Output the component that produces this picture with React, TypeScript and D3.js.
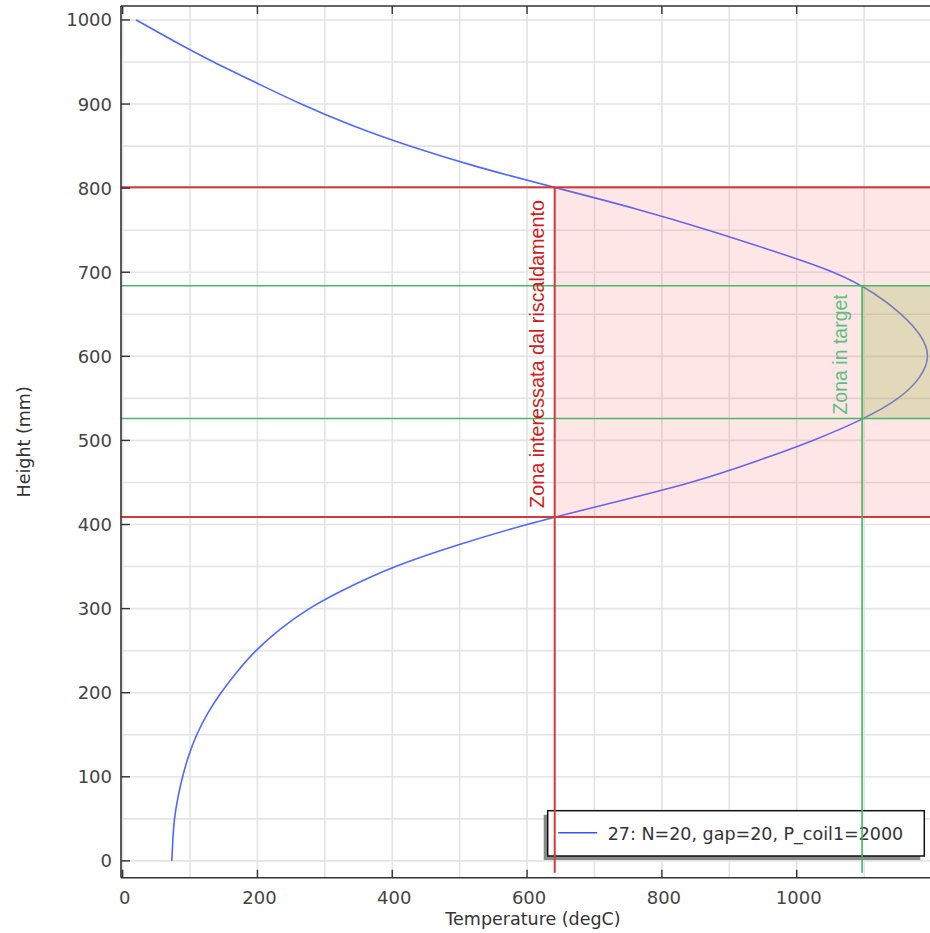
import * as d3 from "d3";

// temperature profile along the height
const heights = [0, 25, 50, 75, 100, 125, 150, 175, 200, 225, 250, 275, 300, 325, 350, 375, 400, 425, 450, 475, 500, 525, 550, 575, 600, 625, 650, 675, 700, 725, 750, 775, 800, 825, 850, 875, 900, 925, 950, 975, 1000];
const temps = [73, 74.5, 77, 82, 89, 98, 110, 126, 146, 170, 198, 233, 277, 335, 405, 495, 600, 722, 842, 939, 1024, 1096, 1150, 1182, 1194, 1183, 1155, 1114, 1054, 966, 869, 763, 645, 528, 426, 339, 265, 199, 135, 76, 20];

// heating zone (red) and target zone (green)
const heatZoneH = [409, 801];
const heatZoneT = 641;
const targetZoneH = [526, 684];
const targetZoneT = 1097;

const xTicks = [0, 200, 400, 600, 800, 1000];
const yTicks = [0, 100, 200, 300, 400, 500, 600, 700, 800, 900, 1000];
const xGrid = d3.range(0, 1300, 100);
const yGrid = d3.range(0, 1050, 50);

const legendLabel = "27: N=20, gap=20, P_coil1=2000";

const W = 930;
const H = 933;
const PLOT = { left: 121, right: 945, top: 6, bottom: 877.7 };
const LINE_BOTTOM = -14; // zone lines run a bit below 0

export default function App() {
  const x = d3.scaleLinear().domain([-2.4, 1220]).range([PLOT.left, PLOT.right]);
  const y = d3.scaleLinear().domain([-20, 1016.6]).range([PLOT.bottom, PLOT.top]);

  const pts = heights.map((h, i) => [temps[i], h] as [number, number]);
  const line = d3
    .line<[number, number]>()
    .x((d) => x(d[0]))
    .y((d) => y(d[1]))
    .curve(d3.curveNatural);

  const tickFont = { fontFamily: "DejaVu Sans", fontSize: 18, fill: "#444" };
  const zoneFont = "Liberation Sans";

  const legend = { x: 547.7, y: 810.7, w: 376.6, h: 45.3 };

  return (
    <svg width={W} height={H} style={{ position: "absolute", left: 0, top: 0, background: "white" }}>
      <defs>
        <clipPath id="plot">
          <rect x={PLOT.left} y={PLOT.top} width={PLOT.right - PLOT.left} height={PLOT.bottom - PLOT.top} />
        </clipPath>
      </defs>

      {/* grid */}
      <g clipPath="url(#plot)" stroke="#e4e4e4" strokeWidth={1.6}>
        {xGrid.map((t) => (
          <line key={"gx" + t} x1={x(t)} x2={x(t)} y1={PLOT.top} y2={PLOT.bottom} />
        ))}
        {yGrid.map((h) => (
          <line key={"gy" + h} x1={PLOT.left} x2={PLOT.right} y1={y(h)} y2={y(h)} />
        ))}
      </g>

      {/* curve */}
      <g clipPath="url(#plot)">
        <path d={line(pts) ?? ""} fill="none" stroke="#4f68ff" strokeWidth={1.6} />
      </g>

      {/* zone fills, semi transparent over the curve */}
      <g clipPath="url(#plot)">
        <rect
          x={x(heatZoneT)}
          y={y(heatZoneH[1])}
          width={PLOT.right - x(heatZoneT)}
          height={y(heatZoneH[0]) - y(heatZoneH[1])}
          fill="#ff5555"
          fillOpacity={0.15}
        />
        <rect
          x={x(targetZoneT)}
          y={y(targetZoneH[1])}
          width={PLOT.right - x(targetZoneT)}
          height={y(targetZoneH[0]) - y(targetZoneH[1])}
          fill="#a0be5a"
          fillOpacity={0.3}
        />
      </g>

      {/* legend */}
      <rect x={legend.x - 4} y={legend.y + 4} width={legend.w} height={legend.h} fill="#8a8a8a" />
      <rect x={legend.x} y={legend.y} width={legend.w} height={legend.h} fill="white" stroke="#111" strokeWidth={1.5} />
      <line x1={legend.x + 10.5} x2={legend.x + 49.5} y1={legend.y + 22} y2={legend.y + 22} stroke="#3355ff" strokeWidth={1.4} />
      <text x={legend.x + 60} y={legend.y + 29} fontFamily="DejaVu Sans" fontSize={17.5} fill="#333">
        {legendLabel}
      </text>

      {/* zone lines */}
      <g clipPath="url(#plot)">
        {heatZoneH.map((h) => (
          <line key={"rh" + h} x1={PLOT.left} x2={PLOT.right} y1={y(h)} y2={y(h)} stroke="#d23a3a" strokeWidth={2} />
        ))}
        {targetZoneH.map((h) => (
          <line key={"gh" + h} x1={PLOT.left} x2={PLOT.right} y1={y(h)} y2={y(h)} stroke="#48b868" strokeWidth={1.6} />
        ))}
        <line x1={x(heatZoneT)} x2={x(heatZoneT)} y1={y(heatZoneH[1])} y2={y(LINE_BOTTOM)} stroke="#d23a3a" strokeWidth={2} />
        <line x1={x(targetZoneT)} x2={x(targetZoneT)} y1={y(targetZoneH[1])} y2={y(LINE_BOTTOM)} stroke="#3cba5c" strokeWidth={1.6} />
      </g>

      {/* zone labels */}
      <text
        transform={`translate(${x(heatZoneT) - 11},${y(heatZoneH[0]) - 9}) rotate(-90)`}
        fontFamily={zoneFont}
        fontSize={19.8}
        fill="#d01c1c"
      >
        Zona interessata dal riscaldamento
      </text>
      <text
        transform={`translate(${x(targetZoneT) - 15},${y(targetZoneH[0]) - 4}) rotate(-90)`}
        fontFamily={zoneFont}
        fontSize={19.5}
        fill="#5fbf80"
      >
        Zona in target
      </text>

      {/* frame */}
      <g stroke="#333" strokeWidth={1.6} fill="none">
        <line x1={PLOT.left} x2={PLOT.left} y1={PLOT.top} y2={PLOT.bottom} />
        <line x1={PLOT.left} x2={W} y1={PLOT.bottom} y2={PLOT.bottom} />
        <line x1={PLOT.left} x2={W} y1={PLOT.top} y2={PLOT.top} />
      </g>

      {/* ticks */}
      <g stroke="#333" strokeWidth={1.4}>
        {xTicks.map((t) => (
          <g key={"xt" + t}>
            <line x1={x(t)} x2={x(t)} y1={PLOT.bottom} y2={PLOT.bottom - 8} />
            <line x1={x(t)} x2={x(t)} y1={PLOT.top} y2={PLOT.top + 8} />
          </g>
        ))}
        {yTicks.map((h) => (
          <line key={"yt" + h} x1={PLOT.left} x2={PLOT.left + 9} y1={y(h)} y2={y(h)} />
        ))}
      </g>

      {xTicks.map((t) => (
        <text key={"xl" + t} x={x(t) + 2} y={904} textAnchor="middle" {...tickFont}>
          {t}
        </text>
      ))}
      {yTicks.map((h) => (
        <text key={"yl" + h} x={112} y={y(h) + 6.5} textAnchor="end" {...tickFont}>
          {h}
        </text>
      ))}

      {/* axis titles */}
      <text x={533} y={925} textAnchor="middle" fontFamily="DejaVu Sans" fontSize={17.5} fill="#333">
        Temperature (degC)
      </text>
      <text
        transform={`translate(30,${(PLOT.top + PLOT.bottom) / 2}) rotate(-90)`}
        textAnchor="middle"
        fontFamily="DejaVu Sans"
        fontSize={17.5}
        fill="#333"
      >
        Height (mm)
      </text>
    </svg>
  );
}
